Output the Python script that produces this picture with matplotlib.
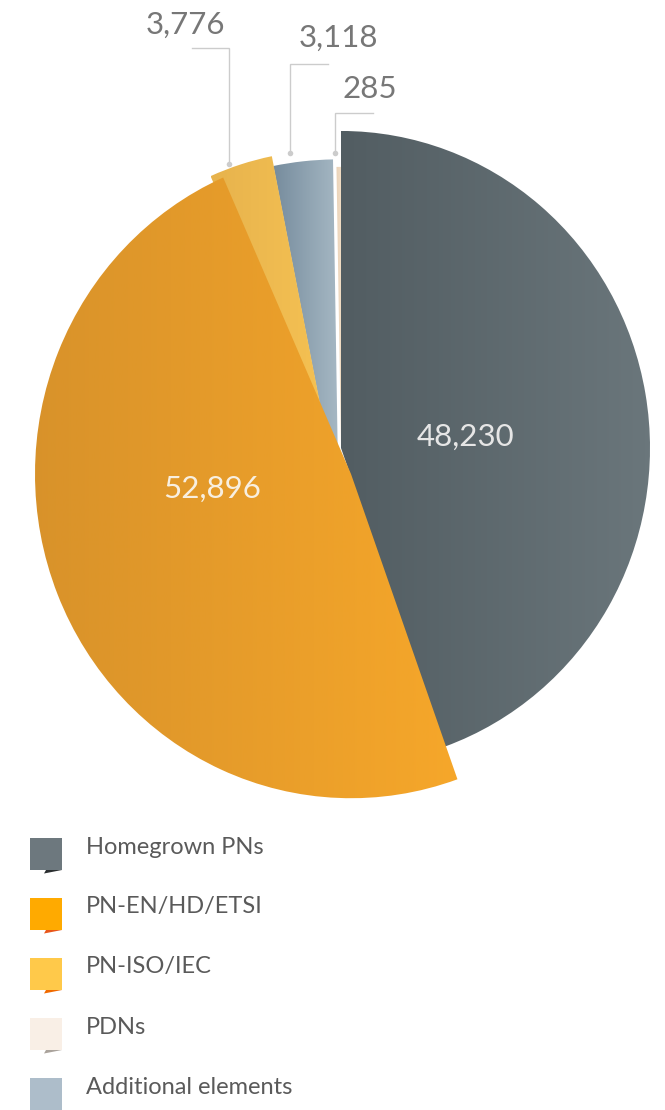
import numpy as np
import matplotlib
matplotlib.use("Agg")
import matplotlib.pyplot as plt
from matplotlib.colors import LinearSegmentedColormap
from matplotlib.patches import Rectangle, Polygon

# data (legend order)
labels = ["Homegrown PNs", "PN-EN/HD/ETSI", "PN-ISO/IEC", "PDNs", "Additional elements"]
values = [48230, 52896, 3776, 285, 3118]
pie_order = [0, 1, 2, 4, 3]  # clockwise order of slices from 12 o'clock

legend_colors = ["#6d787e", "#ffaa00", "#ffc94a", "#f9efe6", "#adbdca"]
flag_colors = ["#2b2f31", "#e8561a", "#f06a00", "#aaa39c", None]

# per slice look: gradient left/right, centre (px), radius (px), zorder
styles = {
    0: dict(c=("#525d62", "#6b777c"), center=(341, 448), r=309, z=4),
    1: dict(c=("#d8922a", "#f6a72a"), center=(351, 474), r=316, z=5),
    2: dict(c=("#e7b34d", "#f6c253"), center=(329.5, 452), r=294, z=3),
    3: dict(c=("#ead3b8", "#f0dcc4"), center=(341, 448), r=274, z=1),
    4: dict(c=("#768c9d", "#a6b8c4"), center=(338.5, 500), r=332, z=2),
}

W, H = 665, 1110
S = 1.026  # slight vertical stretch of the pie

fig = plt.figure(figsize=(W / 100, H / 100), dpi=100)
ax = fig.add_axes([0, 0, 1, 1])

vals = [values[i] for i in pie_order]
wedges, _ = ax.pie(vals, startangle=-90, counterclock=True, radius=300, center=(340, 440))

for w, idx in zip(wedges, pie_order):
    st = styles[idx]
    cx, cy = st["center"]
    w.set_center((cx, cy / S))
    w.set_radius(st["r"])
    w.set_facecolor("none")
    w.set_edgecolor("none")
    w.set_zorder(st["z"])
    verts = w.get_path().vertices
    x0, x1 = verts[:, 0].min(), verts[:, 0].max()
    y0, y1 = verts[:, 1].min(), verts[:, 1].max()
    cmap = LinearSegmentedColormap.from_list("g%d" % idx, list(st["c"]))
    im = ax.imshow(np.linspace(0, 1, 256).reshape(1, -1), cmap=cmap,
                   extent=[x0, x1, y1, y0], aspect="auto", zorder=st["z"],
                   interpolation="bilinear")
    im.set_clip_path(w)

ax.set_aspect("auto")
ax.set_xlim(0, W)
ax.set_ylim(H / S, 0)
ax.axis("off")

# overlay in pixel coords for texts, connectors, legend
ov = fig.add_axes([0, 0, 1, 1])
ov.set_xlim(0, W)
ov.set_ylim(H, 0)
ov.axis("off")
ov.patch.set_alpha(0)

font = dict(family=["Lato", "DejaVu Sans"], fontweight="normal")

# inner labels
ov.text(465, 437, f"{values[0]:,}", color="#e6e6e6", fontsize=22.5, ha="center", va="center", zorder=10, **font)
ov.text(212, 489, f"{values[1]:,}", color="#f8efe0", fontsize=22.5, ha="center", va="center", zorder=10, **font)

# outside labels with connectors: (value index, text centre, elbow y, line end x, dot)
outside = [
    (2, (185, 25), 48, 192, (229, 164)),
    (4, (338, 38), 64, 328, (290, 153)),
    (3, (370, 89), 113, 373, (335, 153)),
]
for idx, (tx, ty), ly, lx, (dx, dy) in outside:
    ov.text(tx, ty, f"{values[idx]:,}", color="#777777", fontsize=22.5, ha="center", va="center", **font)
    ov.plot([lx, dx, dx], [ly, ly, dy], color="#cccccc", lw=1.0, solid_joinstyle="miter")
    ov.plot([dx], [dy], "o", color="#cccccc", ms=4, mec="none")

# legend
for i, (lab, col) in enumerate(zip(labels, legend_colors)):
    top = 838 + 60 * i
    ov.add_patch(Rectangle((30, top), 32, 32, facecolor=col, edgecolor="none"))
    if flag_colors[i]:
        ov.add_patch(Polygon([(44, top + 35.5), (62, top + 32), (46, top + 32)],
                             closed=True, facecolor=flag_colors[i], edgecolor="none"))
    ov.text(86, top + 9, lab, color="#5a5a5a", fontsize=17, ha="left", va="center", **font)

fig.savefig("out.png", dpi=100)
